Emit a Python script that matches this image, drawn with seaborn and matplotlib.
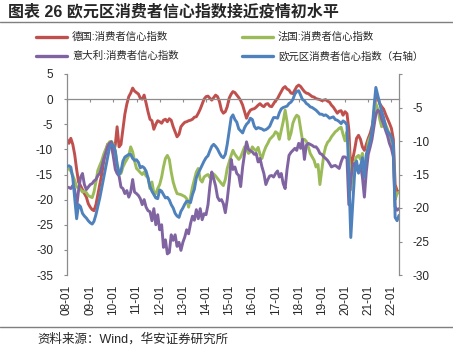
import matplotlib
matplotlib.use("Agg")
import matplotlib.pyplot as plt
import matplotlib.dates as mdates
from matplotlib.lines import Line2D
import numpy as np
import pandas as pd
import seaborn as sns

# ---------------- data (monthly, 2008-01 .. 2022-05) ----------------
months = pd.date_range("2008-01-01", "2022-05-01", freq="MS")

germany = [
    -8.0, -8.8, -7.8, -9.0, -11.0, -14.0, -16.5, -17.2, -18.0, -18.8, -19.5, -20.8,
    -21.5, -22.0, -22.2, -21.0, -19.0, -17.0, -15.0, -12.5, -10.5, -9.0, -8.8, -9.5,
    -11.0, -9.0, -5.5, -9.5, -9.0, -6.0, -3.0, -1.0, 0.5, 1.2, 2.2, 1.6,
    1.3, 1.0, 0.2, 0.0, 0.8, -0.8, -2.5, -4.0, -4.3, -6.0, -5.0, -4.3,
    -4.5, -4.8, -4.2, -4.0, -4.5, -3.9, -4.2, -5.5, -6.5, -7.5, -7.0, -5.5,
    -5.0, -4.6, -4.5, -4.3, -4.2, -4.0, -3.6, -3.5, -2.8, -2.0, -1.0, 0.0,
    0.5, 0.6, 0.2, -0.2, 0.3, 0.8, 0.5, -0.5, -2.2, -2.8, -2.5, -1.5,
    0.2, 1.0, 1.5, 1.3, 0.8, 0.3, -0.3, -1.2, -2.5, -3.8, -2.8, -2.2,
    -2.0, -1.9, -1.6, -1.2, -0.9, -1.3, -1.5, -1.0, -0.9, -1.4, -1.5, -0.9,
    -0.3, 0.1, 0.8, 1.5, 2.2, 2.5, 2.0, 1.8, 1.2, 1.1, 1.8, 2.5,
    2.8, 2.5, 2.0, 1.5, 1.2, 1.1, 0.8, 0.5, 0.4, 0.1, 0.0, -0.1,
    -0.3, -0.2, -0.1, -0.4, -0.6, -1.2, -1.6, -2.2, -2.8, -2.4, -2.3, -3.2,
    -2.5, -2.9, -6.0, -14.5, -12.0, -10.0, -7.8, -7.2, -8.0, -9.5, -10.2, -9.0,
    -7.8, -6.8, -5.5, -3.5, 1.0, 0.2, -0.9, -1.5, -2.0, -3.0, -3.9, -4.8,
    -5.8, -8.0, -17.0, -18.2, -18.5,
]

france = [
    -13.8, -13.9, -14.3, -15.2, -16.2, -17.5, -17.6, -17.9, -18.5, -18.3, -18.6, -19.2,
    -19.4, -19.6, -18.5, -16.5, -14.2, -13.2, -12.3, -11.0, -10.0, -9.2, -8.5, -8.4,
    -9.0, -10.5, -13.0, -14.5, -14.8, -13.5, -12.7, -12.0, -11.3, -9.5, -10.5, -12.3,
    -13.8, -14.2, -14.6, -15.0, -14.5, -15.3, -15.6, -17.8, -16.5, -18.6, -18.8, -17.8,
    -17.0, -15.5, -13.5, -11.8, -11.2, -12.0, -14.5, -16.5, -17.8, -18.8, -18.9, -19.0,
    -19.2, -19.4, -19.8, -21.5, -19.5, -17.5, -16.0, -14.5, -13.8, -16.0, -16.5, -15.5,
    -15.2, -15.0, -15.6, -14.8, -14.9, -15.3, -15.8, -16.3, -16.8, -17.2, -16.0, -13.8,
    -12.5, -11.2, -10.2, -11.0, -11.5, -12.0, -11.5, -10.5, -9.5, -9.8, -10.8, -10.5,
    -9.5, -10.0, -10.3, -9.6, -11.0, -11.8, -10.5, -9.5, -8.8, -8.0, -7.6, -7.2,
    -6.5, -6.8, -8.0, -6.2, -4.5, -2.2, -4.5, -8.0, -6.8, -4.8, -3.8, -3.2,
    -3.5, -6.0, -8.2, -8.0, -8.4, -9.5, -10.8, -11.5, -12.2, -13.5, -13.0, -17.0,
    -14.0, -11.0, -9.5, -8.6, -8.2, -7.5, -7.0, -6.5, -6.2, -5.8, -5.6, -7.0,
    -8.3, -6.5, -10.5, -18.0, -14.5, -12.5, -11.5, -11.2, -12.0, -10.8, -14.2, -12.5,
    -8.5, -7.5, -6.8, -3.0, -0.9, -2.0, -4.0, -5.5, -4.2, -5.0, -6.0, -7.0,
    -8.2, -10.0, -20.0, -18.8, -18.5,
]

italy = [
    -17.5, -17.6, -17.8, -17.2, -18.0, -21.5, -18.2, -15.6, -14.8, -17.0, -18.0, -17.5,
    -17.0, -16.8, -16.3, -16.0, -15.2, -14.8, -13.5, -12.0, -10.8, -9.5, -8.8, -8.5,
    -11.5, -14.0, -14.8, -15.3, -17.5, -17.8, -18.8, -18.2, -19.5, -18.5, -16.0, -18.5,
    -18.8, -19.2, -19.8, -21.0, -20.0, -21.5, -22.2, -22.4, -24.2, -21.8, -25.0, -23.0,
    -26.0, -25.0, -29.5, -28.0, -30.8, -30.5, -27.0, -28.1, -27.0, -29.3, -28.5, -30.1,
    -28.5, -27.4, -26.0, -26.8, -24.8, -23.3, -24.1, -22.0, -23.8, -21.8, -24.0, -22.8,
    -23.0, -21.0, -17.5, -14.5, -15.8, -17.3, -19.5, -20.2, -20.0, -20.8, -22.6, -20.0,
    -16.5, -12.0, -14.0, -13.5, -14.8, -15.2, -17.4, -13.5, -10.8, -8.5, -10.0, -10.3,
    -10.5, -11.0, -10.8, -12.5, -11.8, -13.5, -14.8, -17.0, -16.0, -15.3, -15.2, -15.5,
    -14.8, -14.3, -15.5, -14.8, -16.8, -17.8, -14.0, -11.2, -10.6, -10.2, -9.8, -10.2,
    -8.8, -9.8, -8.0, -12.0, -9.2, -8.8, -9.0, -9.2, -9.5, -9.5, -10.0, -10.8,
    -11.0, -11.5, -11.8, -12.2, -12.8, -13.5, -13.3, -13.2, -13.5, -13.8, -12.5, -11.5,
    -11.5, -11.8, -21.0, -16.0, -13.0, -12.8, -14.1, -13.5, -13.2, -15.5, -19.5, -14.5,
    -11.0, -9.5, -8.0, -5.5, -3.0, -2.2, -2.5, -4.0, -5.0, -6.2, -7.3, -8.8,
    -9.8, -11.5, -21.4, -22.1, -21.8,
]

euro_area = [
    -13.8, -13.7, -13.9, -15.5, -18.5, -21.6, -19.5, -19.8, -20.8, -21.2, -21.5, -21.9,
    -22.2, -22.4, -22.0, -21.0, -19.8, -18.5, -17.0, -15.5, -14.0, -12.5, -11.0, -10.5,
    -10.6, -11.5, -13.5, -15.0, -14.5, -13.0, -12.4, -12.2, -12.0, -12.0, -12.6, -12.9,
    -12.8, -13.2, -14.0, -13.8, -14.0, -14.5, -15.5, -16.8, -17.5, -18.0, -18.5, -18.6,
    -17.3, -17.5, -18.0, -18.5, -18.4, -18.8, -19.5, -20.0, -20.8, -21.2, -21.4, -20.5,
    -20.0, -19.4, -19.0, -19.0, -19.2, -18.0, -17.2, -15.5, -14.8, -14.2, -13.6, -13.0,
    -12.5, -12.2, -11.5, -10.8, -10.5, -10.8, -11.2, -11.8, -12.3, -12.5, -12.0, -10.5,
    -8.5, -6.5, -6.1, -6.8, -7.2, -8.2, -8.5, -8.8, -8.0, -7.5, -7.2, -6.6,
    -6.8, -7.8, -8.2, -8.0, -8.1, -8.2, -8.4, -8.3, -8.1, -7.8, -7.1, -6.5,
    -6.5, -6.6, -5.8, -5.2, -5.0, -4.9, -4.8, -4.4, -4.2, -3.8, -3.0, -2.6,
    -2.5, -3.2, -3.8, -4.0, -4.4, -4.6, -4.9, -5.0, -5.2, -5.4, -5.7, -6.0,
    -6.0, -6.2, -6.1, -6.3, -6.6, -6.5, -6.4, -6.8, -6.9, -7.1, -7.4, -7.0,
    -7.2, -7.6, -15.0, -24.4, -19.5, -14.8, -13.0, -14.8, -13.8, -12.5, -15.4, -12.0,
    -11.0, -10.0, -8.5, -5.0, -2.0, -3.2, -4.4, -5.6, -6.5, -7.8, -8.6, -8.9,
    -9.4, -10.5, -21.4, -21.9, -21.1,
]

series_names = ["德国:消费者信心指数", "法国:消费者信心指数", "意大利:消费者信心指数"]
euro_name = "欧元区消费者信心指数（右轴）"
left_ticks = [5, 0, -5, -10, -15, -20, -25, -30, -35]
right_ticks = [0, -5, -10, -15, -20, -25, -30]
year_ticks = pd.date_range("2008-01-01", "2022-01-01", freq="YS")

# ---------------- style ----------------
sns.set_style("white")
plt.rcParams["font.family"] = ["Liberation Sans", "Noto Sans CJK SC", "DejaVu Sans"]

RED, GREEN, PURPLE, BLUE = "#C0504D", "#9BBB59", "#8064A2", "#4F81BD"
GRAY = "#8C8C8C"
W, H = 453, 352

fig = plt.figure(figsize=(W / 100, H / 100), dpi=100)
ax = fig.add_axes([67 / W, 1 - 275 / H, (399 - 67) / W, (275 - 74) / H])

left_df = pd.DataFrame({
    "date": np.tile(months, 3),
    "value": germany + france + italy,
    "series": np.repeat(series_names, len(months)),
})
sns.lineplot(data=left_df, x="date", y="value", hue="series",
             palette=[RED, GREEN, PURPLE], linewidth=2.1, ax=ax, legend=False)

ax2 = ax.twinx()
sns.lineplot(x=months, y=euro_area, color=BLUE, linewidth=2.1, ax=ax2, legend=False)

# axes limits/ticks
ax.set_xlim(months[0], months[-1])
ax.set_ylim(-35, 5)
ax.set_yticks(left_ticks)
ax.set_yticklabels([str(t) for t in left_ticks])
ax2.set_ylim(-30, 0)
ax2.set_yticks(right_ticks)
ax2.set_yticklabels(["" if t == 0 else str(t) for t in right_ticks])

for a in (ax, ax2):
    a.set_xlabel("")
    a.set_ylabel("")
    a.grid(False)

for s in ("top", "right"):
    ax.spines[s].set_visible(False)
for s in ("top", "left", "bottom"):
    ax2.spines[s].set_visible(False)
ax.spines["left"].set_color(GRAY)
ax2.spines["right"].set_color(GRAY)
ax.spines["bottom"].set_color(GRAY)
ax.spines["bottom"].set_position(("data", 0))
for s in ("left", "bottom"):
    ax.spines[s].set_linewidth(0.9)
ax2.spines["right"].set_linewidth(0.9)

ax.set_xticks(year_ticks)
ax.tick_params(axis="x", direction="out", length=2.5, width=0.8, color=GRAY,
               labelbottom=False, bottom=True)
ax.tick_params(axis="y", direction="out", length=2.5, width=0.8, color=GRAY,
               labelsize=8.5, pad=7.5, left=True)
ax2.tick_params(axis="y", direction="out", length=2.5, width=0.8, color=GRAY,
                labelsize=8.5, pad=7.5, right=True)

# date labels at the bottom of the plot
sec = ax.secondary_xaxis("bottom")
sec.set_xticks(year_ticks)
sec.xaxis.set_major_formatter(mdates.DateFormatter("%y-%m"))
sec.tick_params(axis="x", length=0, labelsize=8.5, pad=7, labelrotation=90)
sec.spines["bottom"].set_visible(False)

# legend
handles = [Line2D([], [], color=RED, lw=2.4), Line2D([], [], color=PURPLE, lw=2.4),
           Line2D([], [], color=GREEN, lw=2.4), Line2D([], [], color=BLUE, lw=2.4)]
labels = [series_names[0], series_names[2], series_names[1], euro_name]
fig.legend(handles, labels, ncol=2, loc="upper left",
           bbox_to_anchor=(36 / W, 1 - 32 / H), frameon=False, fontsize=7.5,
           handlelength=3.0, handletextpad=0.45, columnspacing=6.1,
           labelspacing=0.85, borderpad=0, borderaxespad=0)

# title, rules and source
fig.text(8 / W, 1 - 12 / H, "图表 26 欧元区消费者信心指数接近疫情初水平",
         fontsize=11.5, fontweight="bold", ha="left", va="center")
fig.add_artist(Line2D([0, 1], [1 - 22 / H] * 2, transform=fig.transFigure,
                      color="#7F7F7F", lw=1.0))
fig.add_artist(Line2D([0, 1], [1 - 327 / H] * 2, transform=fig.transFigure,
                      color="#7F7F7F", lw=1.0))
fig.text(37 / W, 1 - 339 / H, "资料来源：Wind，华安证券研究所",
         fontsize=9, ha="left", va="center")

fig.savefig("out.png", dpi=100)
